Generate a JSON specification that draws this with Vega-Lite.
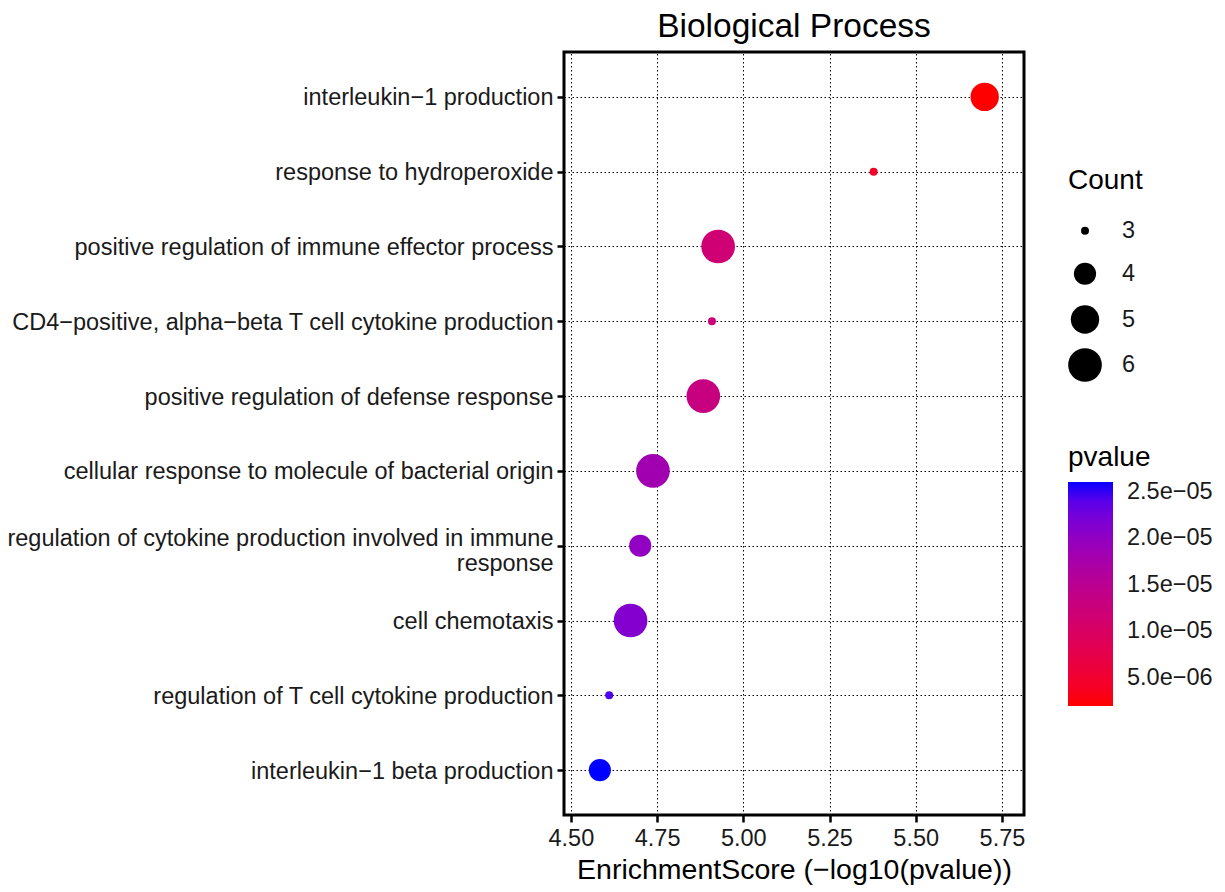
{
  "$schema": "https://vega.github.io/schema/vega-lite/v6.json",
  "width": 460,
  "height": 763,
  "autosize": {"type": "none"},
  "padding": {"left": 564, "top": 52, "right": 201, "bottom": 77},
  "background": "white",
  "title": {"text": "Biological Process", "fontSize": 33.5, "font": "Liberation Sans", "fontWeight": "normal", "color": "black", "anchor": "middle", "offset": 8},
  "data": {
    "values": [
      {"Term": "interleukin−1 production", "EnrichmentScore": 5.70, "Count": 5, "pvalue": 1.995e-6},
      {"Term": "response to hydroperoxide", "EnrichmentScore": 5.378, "Count": 3, "pvalue": 4.19e-6},
      {"Term": "positive regulation of immune effector process", "EnrichmentScore": 4.927, "Count": 6, "pvalue": 1.183e-5},
      {"Term": "CD4−positive, alpha−beta T cell cytokine production", "EnrichmentScore": 4.909, "Count": 3, "pvalue": 1.233e-5},
      {"Term": "positive regulation of defense response", "EnrichmentScore": 4.884, "Count": 6, "pvalue": 1.306e-5},
      {"Term": "cellular response to molecule of bacterial origin", "EnrichmentScore": 4.738, "Count": 6, "pvalue": 1.828e-5},
      {"Term": "regulation of cytokine production involved in immune response", "EnrichmentScore": 4.701, "Count": 4, "pvalue": 1.991e-5},
      {"Term": "cell chemotaxis", "EnrichmentScore": 4.673, "Count": 6, "pvalue": 2.123e-5},
      {"Term": "regulation of T cell cytokine production", "EnrichmentScore": 4.611, "Count": 3, "pvalue": 2.449e-5},
      {"Term": "interleukin−1 beta production", "EnrichmentScore": 4.584, "Count": 4, "pvalue": 2.606e-5}
    ]
  },
  "mark": {"type": "circle", "opacity": 1},
  "encoding": {
    "x": {
      "field": "EnrichmentScore", "type": "quantitative",
      "title": "EnrichmentScore (−log10(pvalue))",
      "scale": {"domain": [4.48, 5.814], "nice": false, "zero": false},
      "axis": {"values": [4.5, 4.75, 5.0, 5.25, 5.5, 5.75], "format": ".2f", "titlePadding": 6}
    },
    "y": {
      "field": "Term", "type": "nominal", "sort": null, "title": null,
      "scale": {"type": "point", "padding": 0.6},
      "axis": {
        "labelExpr": "datum.value == 'regulation of cytokine production involved in immune response' ? ['regulation of cytokine production involved in immune', 'response'] : datum.value",
        "labelOffset": {"condition": {"test": "datum.value == 'regulation of cytokine production involved in immune response'", "value": -7}, "value": 1},
        "labelLimit": 600,
        "labelLineHeight": 25
      }
    },
    "size": {
      "field": "Count", "type": "quantitative", "title": "Count",
      "scale": {"domain": [3, 4, 5, 6], "range": [64, 491, 804, 1134], "zero": false},
      "legend": {"values": [3, 4, 5, 6], "format": "d", "orient": "none", "legendX": 504, "legendY": 115, "rowPadding": 8, "gridAlign": "all", "labelOffset": 20, "symbolFillColor": "black", "symbolStrokeWidth": 0, "titlePadding": 24}
    },
    "color": {
      "field": "pvalue", "type": "quantitative", "title": "pvalue",
      "scale": {"range": ["red", "blue"], "interpolate": "lab", "zero": false, "nice": false},
      "legend": {"values": [5e-6, 1e-5, 1.5e-5, 2e-5, 2.5e-5], "orient": "none", "legendX": 504, "legendY": 392, "gradientLength": 224, "gradientThickness": 45, "labelOffset": 14, "titlePadding": 10, "gradientStrokeWidth": 0,
        "labelExpr": "replace(format(datum.value, '.1e'), 'e-', 'e−0')"}
    }
  },
  "config": {
    "font": "Liberation Sans",
    "view": {"stroke": "black", "strokeWidth": 3},
    "axis": {
      "domain": false,
      "grid": true,
      "gridColor": "black",
      "gridDash": [1.5, 2.5],
      "gridWidth": 1,
      "gridOpacity": 1,
      "tickColor": "black",
      "tickWidth": 2.5,
      "tickSize": 7,
      "labelFontSize": 23.5,
      "labelColor": "#1a1a1a",
      "labelPadding": 4,
      "titleFontSize": 28.5,
      "titleFontWeight": "normal",
      "titleColor": "black"
    },
    "legend": {
      "titleFontSize": 28,
      "titleFontWeight": "normal",
      "titleColor": "black",
      "labelFontSize": 23.5,
      "labelColor": "#1a1a1a"
    }
  }
}
